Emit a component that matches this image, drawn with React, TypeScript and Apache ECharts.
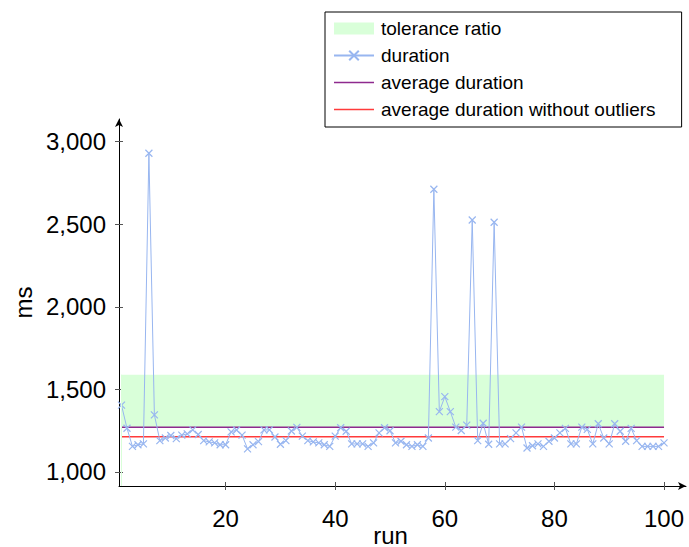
import React, { useEffect, useRef } from "react";
import * as echarts from "echarts";

const runs: number[] = Array.from({ length: 100 }, (_, i) => i + 1);
const durations: number[] = [
  1405, 1265, 1155, 1165, 1170, 2930, 1346, 1190, 1206, 1221,
  1202, 1223, 1231, 1255, 1227, 1190, 1182, 1176, 1165, 1165,
  1243, 1254, 1223, 1140, 1165, 1184, 1255, 1255, 1212, 1168,
  1190, 1248, 1270, 1217, 1190, 1182, 1176, 1165, 1155, 1217,
  1268, 1247, 1170, 1170, 1170, 1155, 1176, 1237, 1268, 1250,
  1176, 1186, 1165, 1155, 1165, 1155, 1206, 2712, 1366, 1456,
  1366, 1272, 1251, 1284, 2526, 1190, 1295, 1168, 2512, 1170,
  1170, 1202, 1237, 1272, 1145, 1159, 1170, 1155, 1186, 1206,
  1237, 1264, 1170, 1170, 1272, 1258, 1170, 1292, 1206, 1170,
  1292, 1247, 1186, 1264, 1190, 1155, 1155, 1155, 1155, 1176,
];
const outlierThreshold = 2000;
const toleranceRatio = 1.25;
const xTicks = [20, 40, 60, 80, 100];
const yTicks = [1000, 1500, 2000, 2500, 3000];
const legendNames = [
  "tolerance ratio",
  "duration",
  "average duration",
  "average duration without outliers",
];

const mean = (a: number[]) => a.reduce((s, v) => s + v, 0) / a.length;
const avgAll = mean(durations);
const avgNoOutliers = mean(durations.filter((v) => v < outlierThreshold));

const FONT = "'Liberation Sans', Arial, sans-serif";
const X_MIN = 0.544;
const X_MAX = 104.01;
const Y_MIN = 915.2;
const Y_MAX = 3137.4;
const LINE_ICON = "path://M0,0H40V1.5H0Z";

export default function App() {
  const ref = useRef<HTMLDivElement>(null);
  useEffect(() => {
    if (!ref.current) return;
    const chart = echarts.init(ref.current, undefined, { renderer: "svg" });
    const first = runs[0];
    const last = runs[runs.length - 1];
    const fmt = (v: number) => Number(v).toLocaleString("en-US");
    chart.setOption({
      animation: false,
      backgroundColor: "#fff",
      textStyle: { fontFamily: FONT },
      grid: { left: 119, right: 3, top: 119, bottom: 61, containLabel: false, outerBoundsMode: "none" },
      legend: {
        orient: "vertical",
        left: 325,
        top: 12,
        data: [
          { name: legendNames[0], icon: "rect", itemStyle: { color: "#d9ffd9" } },
          { name: legendNames[1] },
          { name: legendNames[2], icon: LINE_ICON },
          { name: legendNames[3], icon: LINE_ICON },
        ],
        itemWidth: 40,
        itemHeight: 12,
        itemGap: 8,
        padding: [7, 26, 8, 8],
        borderColor: "#000",
        borderWidth: 1,
        backgroundColor: "#fff",
        textStyle: { fontSize: 19, color: "#000", fontFamily: FONT, padding: [0, 0, 0, 2] },
      },
      xAxis: [
        {
          type: "value",
          min: X_MIN,
          max: X_MAX,
          name: "run",
          nameLocation: "middle",
          nameGap: 37,
          nameMoveOverlap: false,
          nameTextStyle: { fontSize: 24, color: "#000", fontFamily: FONT, padding: [0, 24, 0, 0] },
          axisLine: { show: true, symbol: ["none", "arrow"], symbolSize: [6, 8], lineStyle: { color: "#000", width: 1 } },
          axisTick: { show: true, length: 4, customValues: xTicks, lineStyle: { color: "#555" } },
          axisLabel: { show: true, customValues: xTicks, fontSize: 24, color: "#000", margin: 20, fontFamily: FONT },
          splitLine: { show: false },
        },
        {
          type: "value",
          min: X_MIN,
          max: X_MAX,
          position: "bottom",
          axisLine: { show: false },
          axisTick: { show: true, inside: true, length: 4, customValues: xTicks, lineStyle: { color: "#555" } },
          axisLabel: { show: false },
          splitLine: { show: false },
        },
      ],
      yAxis: [
        {
          type: "value",
          min: Y_MIN,
          max: Y_MAX,
          name: "ms",
          nameLocation: "middle",
          nameGap: 84,
          nameMoveOverlap: false,
          nameTextStyle: { fontSize: 24, color: "#000", fontFamily: FONT },
          axisLine: { show: true, symbol: ["none", "arrow"], symbolSize: [6, 8], lineStyle: { color: "#000", width: 1 } },
          axisTick: { show: true, length: 4, customValues: yTicks, lineStyle: { color: "#555" } },
          axisLabel: { show: true, customValues: yTicks, fontSize: 24, color: "#000", margin: 13, formatter: fmt, fontFamily: FONT },
          splitLine: { show: false },
        },
        {
          type: "value",
          min: Y_MIN,
          max: Y_MAX,
          position: "left",
          axisLine: { show: false },
          axisTick: { show: true, inside: true, length: 4, customValues: yTicks, lineStyle: { color: "#555" } },
          axisLabel: { show: false },
          splitLine: { show: false },
        },
      ],
      series: [
        {
          name: legendNames[0],
          type: "line",
          data: [],
          z: 1,
          itemStyle: { color: "#d9ffd9" },
          markArea: {
            silent: true,
            itemStyle: { color: "#d9ffd9", opacity: 1 },
            data: [[{ coord: [first, avgAll] }, { coord: [last, avgAll * toleranceRatio] }]],
          },
          markLine: {
            silent: true,
            symbol: "none",
            label: { show: false },
            lineStyle: { color: "#d9ffd9", width: 1, type: "solid" },
            data: [[{ coord: [first, Y_MIN] }, { coord: [first, avgAll * toleranceRatio] }]],
          },
        },
        {
          name: legendNames[1],
          type: "line",
          z: 4,
          data: runs.map((r, i) => [r, durations[i]]),
          symbol: "path://M0,0L10,10M10,0L0,10",
          symbolSize: 7,
          showSymbol: true,
          lineStyle: { color: "#98b6f0", width: 1 },
          itemStyle: { color: "#98b6f0", borderColor: "#98b6f0", borderWidth: 1.2 },
        },
        {
          name: legendNames[2],
          type: "line",
          z: 3,
          data: [[first, avgAll], [last, avgAll]],
          symbol: "none",
          lineStyle: { color: "#8e2a8e", width: 1.5 },
          itemStyle: { color: "#8e2a8e" },
        },
        {
          name: legendNames[3],
          type: "line",
          z: 3,
          data: [[first, avgNoOutliers], [last, avgNoOutliers]],
          symbol: "none",
          lineStyle: { color: "#ff3b3b", width: 1.5 },
          itemStyle: { color: "#ff3b3b" },
        },
      ],
    });
    return () => chart.dispose();
  }, []);
  return <div ref={ref} style={{ width: 689, height: 547, position: "absolute", left: 0, top: 0 }} />;
}
